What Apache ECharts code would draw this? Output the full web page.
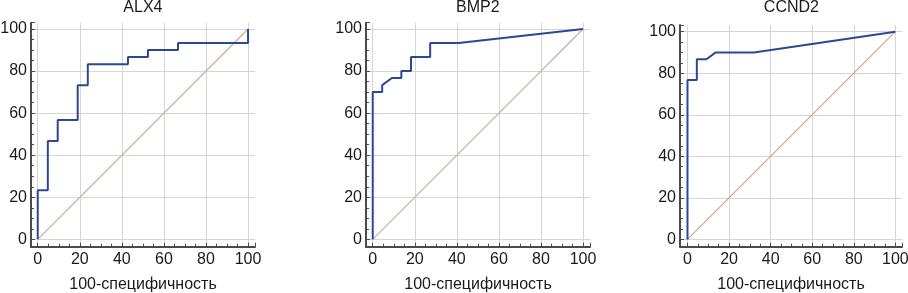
<!DOCTYPE html>
<html>
<head>
<meta charset="utf-8">
<script src="https://cdn.jsdelivr.net/npm/echarts@6/dist/echarts.min.js"></script>
<style>
html,body{margin:0;padding:0;background:#fff;}
#chart{width:908px;height:293px;}
</style>
</head>
<body>
<div id="chart"></div>
<script>
// ---- data ----
const titles = ['ALX4', 'BMP2', 'CCND2'];
const xAxisName = '100-специфичность';
const tickValues = [0, 20, 40, 60, 80, 100];

const alx4X = [0, 0, 4.8, 4.8, 9.5, 9.5, 19, 19, 23.8, 23.8, 42.9, 42.9, 52.4, 52.4, 66.7, 66.7, 100, 100];
const alx4Y = [0, 23.3, 23.3, 46.7, 46.7, 56.7, 56.7, 73.3, 73.3, 83.3, 83.3, 86.7, 86.7, 90, 90, 93.3, 93.3, 100];

const bmp2X = [0, 0, 4.5, 4.5, 9.1, 13.6, 13.6, 18.2, 18.2, 27.3, 27.3, 40.9, 100];
const bmp2Y = [0, 70, 70, 73.3, 76.7, 76.7, 80, 80, 86.7, 86.7, 93.3, 93.3, 100];

const ccnd2X = [0, 0, 4.5, 4.5, 9.1, 13.6, 32, 100];
const ccnd2Y = [0, 76.7, 76.7, 86.7, 86.7, 90, 90, 100];

const diagX = [0, 100];
const diagY = [0, 100];

// ---- build ----
function zip(xs, ys) { return xs.map((x, i) => [x, ys[i]]); }
const rocSets = [zip(alx4X, alx4Y), zip(bmp2X, bmp2Y), zip(ccnd2X, ccnd2Y)];
const diagColors = ['#d2aa92', '#c2b2a6', '#d0a484'];

const FONT = '"Liberation Sans", Arial, sans-serif';
const grids = [
  {left: 31, top: 22.7, width: 224, height: 224, xMin: -3.2, xMax: 103.3, yMin: -3.5, yMax: 103.0},
  {left: 366, top: 22.7, width: 224, height: 224, xMin: -3.2, xMax: 103.3, yMin: -3.5, yMax: 103.0},
  {left: 680, top: 25, width: 222, height: 221.7, xMin: -3.6, xMax: 103.2, yMin: -3.5, yMax: 103.2}
];

function fmt(v) { return tickValues.indexOf(Math.round(v * 1000) / 1000) >= 0 ? String(v) : ''; }

function axisCommon(min, max) {
  return {
    type: 'value', min: min, max: max, splitNumber: 5,
    axisLine: {show: true, onZero: false, lineStyle: {color: '#4a4a4a', width: 2}},
    axisTick: {show: true, inside: true, length: 4, lineStyle: {color: '#4a4a4a', width: 1}},
    minorTick: {show: true, splitNumber: 4, length: 3, lineStyle: {color: '#4a4a4a', width: 1}},
    splitLine: {show: true, showMinLine: false, showMaxLine: false, lineStyle: {color: '#d6d6d6', width: 1}},
    minorSplitLine: {show: false},
    axisLabel: {show: true, showMinLabel: false, showMaxLabel: false, formatter: fmt,
      color: '#1a1a1a', fontSize: 16, fontFamily: FONT}
  };
}

const gridOpts = [], xAxes = [], yAxes = [], series = [], graphics = [];
grids.forEach((g, i) => {
  gridOpts.push({left: g.left, top: g.top, width: g.width, height: g.height, containLabel: false, outerBoundsMode: 'none'});
  const xa = axisCommon(g.xMin, g.xMax);
  xa.gridIndex = i;
  xa.axisLabel.margin = 5;
  xa.name = xAxisName;
  xa.nameLocation = 'middle';
  xa.nameGap = 30;
  xa.nameTextStyle = {color: '#1a1a1a', fontSize: 16, fontFamily: FONT};
  xAxes.push(xa);
  const ya = axisCommon(g.yMin, g.yMax);
  ya.gridIndex = i;
  ya.axisLabel.margin = 4;
  yAxes.push(ya);
  series.push({
    type: 'line', xAxisIndex: i, yAxisIndex: i, data: zip(diagX, diagY),
    symbol: 'none', silent: true, animation: false,
    lineStyle: {color: diagColors[i], width: 1.2}, z: 2
  });
  series.push({
    type: 'line', xAxisIndex: i, yAxisIndex: i, data: rocSets[i],
    symbol: 'none', silent: true, animation: false,
    lineStyle: {color: '#2b4894', width: 2}, z: 3
  });
  const pxPerUnit = g.width / (g.xMax - g.xMin);
  const cx = g.left + (50 - g.xMin) * pxPerUnit;
  graphics.push({
    type: 'text', x: cx, y: 0,
    style: {text: titles[i], textAlign: 'center', textVerticalAlign: 'top',
      font: '16px ' + FONT, fill: '#1a1a1a'}
  });
});

const chart = echarts.init(document.getElementById('chart'), null, {renderer: 'canvas'});
chart.setOption({
  animation: false,
  backgroundColor: '#ffffff',
  grid: gridOpts,
  xAxis: xAxes,
  yAxis: yAxes,
  series: series,
  graphic: graphics
});
</script>
</body>
</html>
